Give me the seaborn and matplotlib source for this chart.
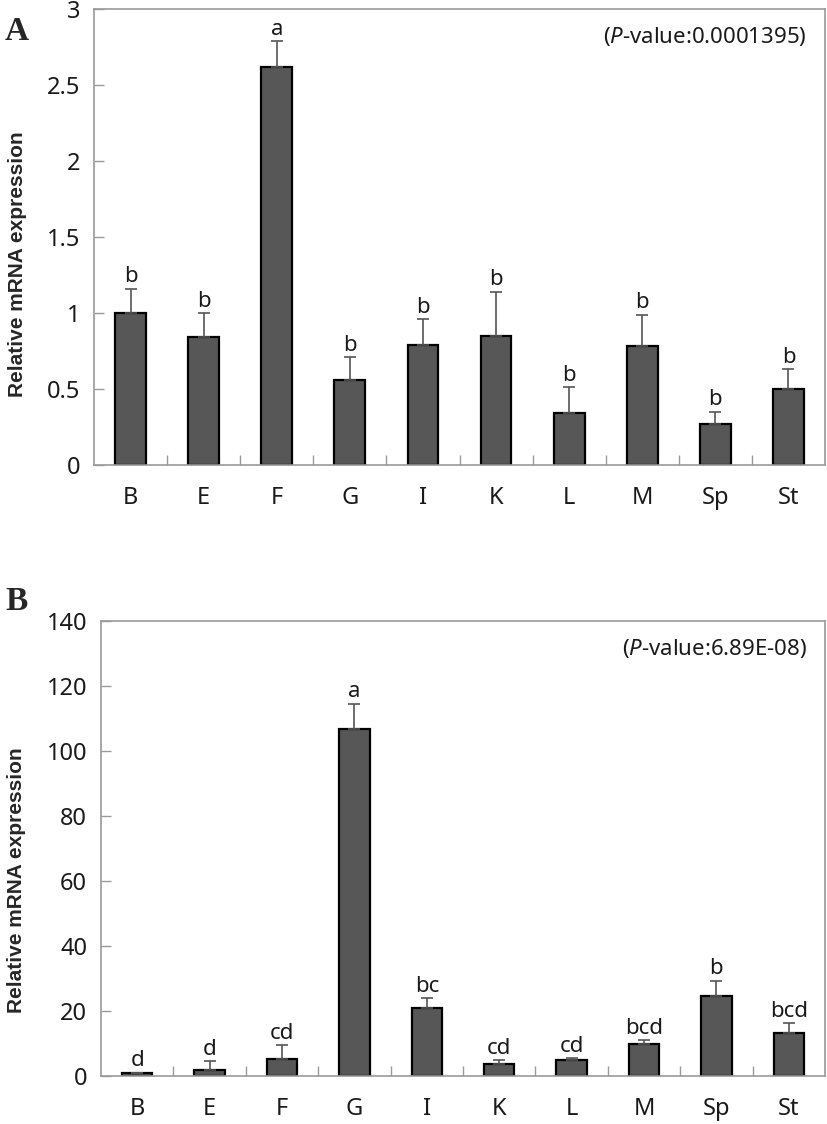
import matplotlib
matplotlib.use("Agg")
import matplotlib.pyplot as plt
import seaborn as sns
import numpy as np
import pandas as pd

categories = ["B", "E", "F", "G", "I", "K", "L", "M", "Sp", "St"]

a_values = [1.00, 0.84, 2.62, 0.56, 0.79, 0.85, 0.34, 0.78, 0.27, 0.50]
a_errors = [0.16, 0.16, 0.17, 0.15, 0.17, 0.29, 0.17, 0.21, 0.08, 0.13]
a_letters = ["b", "b", "a", "b", "b", "b", "b", "b", "b", "b"]
a_yticks = [0, 0.5, 1, 1.5, 2, 2.5, 3]
a_yticklabels = ["0", "0.5", "1", "1.5", "2", "2.5", "3"]
a_pvalue = "0.0001395"

b_values = [1.0, 2.0, 5.3, 106.7, 21.0, 3.6, 5.0, 10.0, 24.5, 13.2]
b_errors = [0.0, 2.5, 4.2, 7.8, 3.0, 1.2, 0.4, 1.0, 4.8, 3.1]
b_letters = ["d", "d", "cd", "a", "bc", "cd", "cd", "bcd", "b", "bcd"]
b_yticks = [0, 20, 40, 60, 80, 100, 120, 140]
b_yticklabels = ["0", "20", "40", "60", "80", "100", "120", "140"]
b_pvalue = "6.89E-08"

sns.set_theme(style="white")
plt.rcParams["font.family"] = ["Noto Sans", "DejaVu Sans"]
plt.rcParams["mathtext.fontset"] = "custom"
plt.rcParams["mathtext.it"] = "Noto Sans:italic"
plt.rcParams["mathtext.rm"] = "Noto Sans"

fig = plt.figure(figsize=(8.27, 11.24), dpi=100)
W, H = 827, 1124
axA = fig.add_axes([94 / W, (H - 465) / H, (825 - 94) / W, (465 - 9) / H])
axB = fig.add_axes([101 / W, (H - 1076) / H, (825 - 101) / W, (1076 - 621) / H])

spine_col = "#9a9a9a"


def draw(ax, values, errors, letters, yticks, yticklabels, ymax, pval):
    df = pd.DataFrame({"cat": categories, "val": values})
    sns.barplot(data=df, x="cat", y="val", color="#555555", width=0.42,
                edgecolor="black", linewidth=1.6, saturation=1, ax=ax)
    for p in ax.patches:
        p.set_facecolor("#575757")
    xs = np.arange(len(categories))
    ax.errorbar(xs, values, yerr=[np.zeros(len(values)), errors], fmt="none",
                ecolor="#555555", elinewidth=1.2, capsize=4, capthick=1.2, zorder=1)
    for x, v, e, lab in zip(xs, values, errors, letters):
        ax.annotate(lab, (x, v + e), xytext=(0, 1), textcoords="offset points",
                    ha="center", va="bottom", fontsize=16, color="#1a1a1a")
    ax.set_xlim(-0.5, len(categories) - 0.5)
    ax.set_ylim(0, ymax)
    ax.set_yticks(yticks)
    ax.set_yticklabels(yticklabels)
    ax.set_xticks(xs)
    ax.set_xticklabels(categories)
    ax.set_xlabel("")
    ax.set_ylabel("Relative mRNA expression", fontsize=15, fontweight="bold",
                  family=["Liberation Sans", "DejaVu Sans"])
    ax.tick_params(axis="y", direction="in", length=7, width=1, color=spine_col,
                   labelsize=17, pad=10, left=True, labelcolor="#1a1a1a")
    ax.tick_params(axis="x", which="major", length=0, labelsize=17, pad=15,
                   labelcolor="#1a1a1a", bottom=False)
    ax.set_xticks(np.arange(0.5, len(categories) - 0.5, 1), minor=True)
    ax.tick_params(axis="x", which="minor", direction="in", length=7, width=1,
                   color=spine_col, bottom=True)
    for s in ax.spines.values():
        s.set_visible(True)
        s.set_color(spine_col)
        s.set_linewidth(1.2)
    ax.text(0.975, 0.965, r"($\mathit{P}$-value:" + pval + ")", transform=ax.transAxes,
            ha="right", va="top", fontsize=16, color="#1a1a1a")


draw(axA, a_values, a_errors, a_letters, a_yticks, a_yticklabels, 3, a_pvalue)
draw(axB, b_values, b_errors, b_letters, b_yticks, b_yticklabels, 140, b_pvalue)
axA.yaxis.set_label_coords(-0.092, 0.44)
axB.yaxis.set_label_coords(-0.103, 0.43)

fig.text(5 / W, 1 - 40 / H, "A", fontsize=24, fontweight="bold",
         family=["Liberation Serif", "DejaVu Serif"], ha="left", va="baseline")
fig.text(5 / W, 1 - 610 / H, "B", fontsize=24, fontweight="bold",
         family=["Liberation Serif", "DejaVu Serif"], ha="left", va="baseline")

fig.savefig("out.png", dpi=100)
